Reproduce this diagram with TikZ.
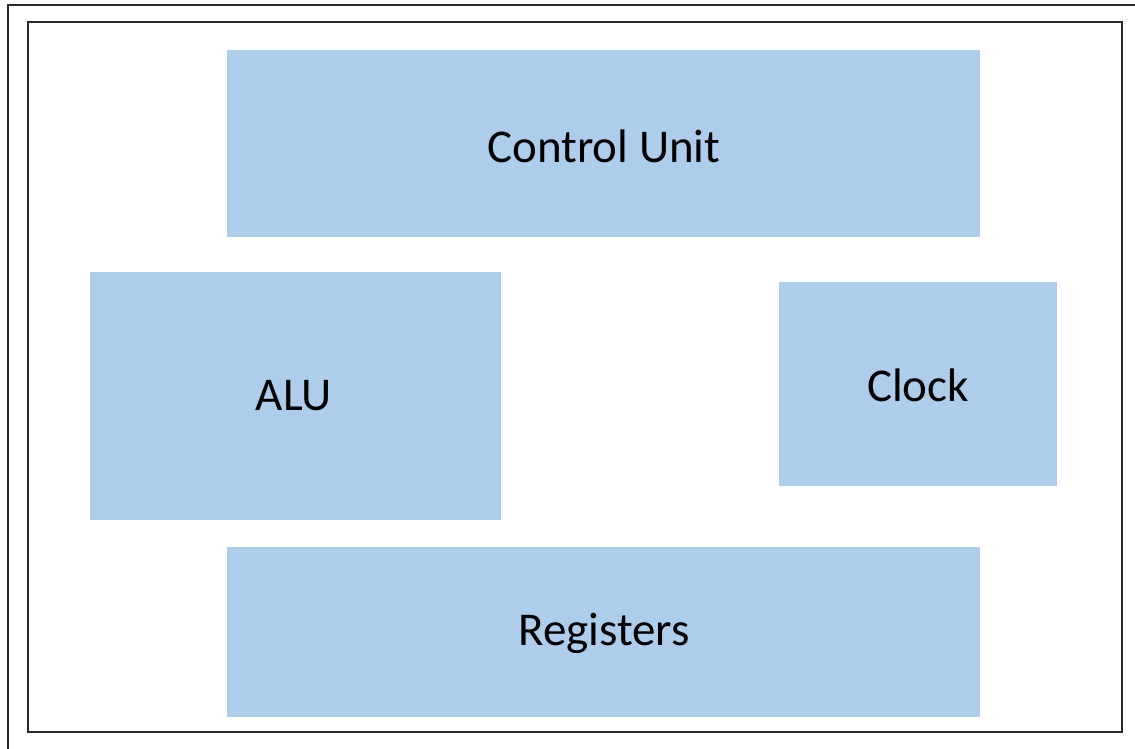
\documentclass[tikz,border=0pt]{standalone}
\usepackage{fontspec}
\setmainfont{Carlito}
\definecolor{boxblue}{HTML}{AECDEA}
\definecolor{frame}{HTML}{2A2A2A}
\begin{document}
\begin{tikzpicture}[x=1pt,y=-1pt,
  blk/.style={fill=boxblue, draw=none, inner sep=0pt, font=\fontsize{47}{56}\selectfont},
  frm/.style={draw=frame, line width=2pt}]
\useasboundingbox (0,0) rectangle (1135,749);
\clip (0,0) rectangle (1135,749);
\fill[white] (0,0) rectangle (1135,749);
\draw[frm] (8,5) rectangle (1160,770);
\draw[frm] (28,22) rectangle (1122,732);
\node[blk, minimum width=753pt, minimum height=187pt] (cu) at (603.5,143.5) {};
\node at (604,146) [font=\fontsize{47}{56}\selectfont] (cut) {Control Unit};
\node[blk, minimum width=411pt, minimum height=248pt] (alu) at (295.5,396) {};
\node at (294,396) [font=\fontsize{47}{56}\selectfont] (alut) {ALU};
\node[blk, minimum width=278pt, minimum height=204pt] (clk) at (918,384) {};
\node at (918,385) [font=\fontsize{47}{56}\selectfont] (clkt) {Clock};
\node[blk, minimum width=753pt, minimum height=170pt] (reg) at (603.5,632) {};
\node at (604,633) [font=\fontsize{47}{56}\selectfont] (regt) {Registers};
\end{tikzpicture}
\end{document}
